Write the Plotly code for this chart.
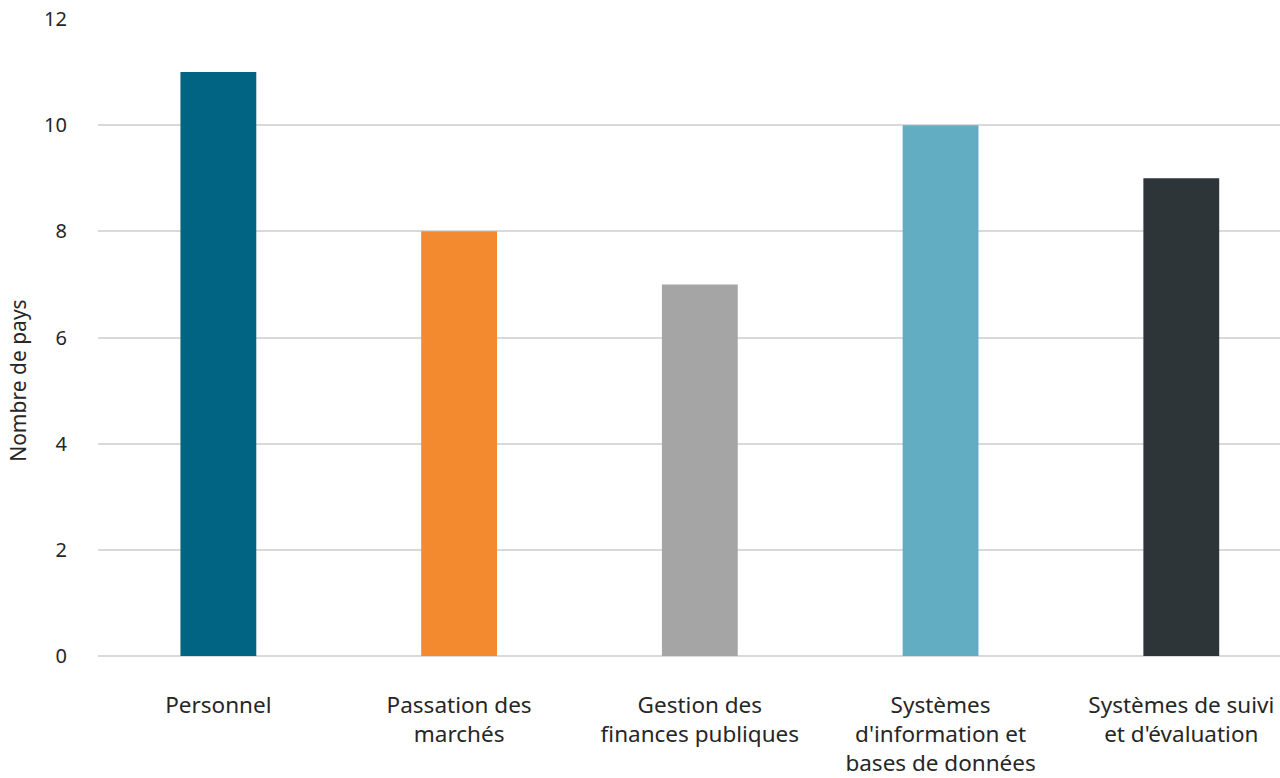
import plotly.graph_objects as go

# Domaines de renforcement des capacités et nombre de pays concernés
categories = [
    "Personnel",
    "Passation des<br>marchés",
    "Gestion des<br>finances publiques",
    "Systèmes<br>d'information et<br>bases de données",
    "Systèmes de suivi<br>et d'évaluation",
]
values = [11, 8, 7, 10, 9]
colors = ["#006482", "#F38A2F", "#A5A5A5", "#62ADC1", "#2E3539"]

y_ticks = [0, 2, 4, 6, 8, 10, 12]
y_title = "Nombre de pays"

font_family = "Noto Sans, Open Sans, sans-serif"
text_color = "#262626"

fig = go.Figure(
    go.Bar(
        x=list(range(len(categories))),
        y=values,
        marker=dict(color=colors, line=dict(width=0)),
        width=0.315,
        hovertext=[c.replace("<br>", " ") for c in categories],
        hoverinfo="text+y",
    )
)

fig.update_layout(
    width=1280,
    height=778,
    margin=dict(l=98, r=0, t=19, b=122),
    paper_bgcolor="white",
    plot_bgcolor="white",
    showlegend=False,
    font=dict(family=font_family, color=text_color, size=20),
)

fig.update_xaxes(
    range=[-0.5, 4.41],
    tickmode="array",
    tickvals=list(range(len(categories))),
    ticktext=categories,
    showgrid=False,
    showline=False,
    zeroline=False,
    ticks="",
    tickfont=dict(size=22.5, color=text_color),
    ticklabelstandoff=33,
    automargin=False,
)

fig.update_yaxes(
    range=[0, 12],
    tickvals=y_ticks,
    showgrid=True,
    gridcolor="#D9D9D9",
    gridwidth=2,
    zeroline=True,
    zerolinecolor="#D9D9D9",
    zerolinewidth=2,
    showline=False,
    ticks="",
    tickfont=dict(size=20, color=text_color),
    ticklabelstandoff=30,
    automargin=False,
)

# Vertical axis title, placed left of the tick labels
fig.add_annotation(
    text=y_title,
    xref="paper",
    yref="paper",
    x=-0.0677,
    y=0.432,
    xanchor="center",
    yanchor="middle",
    textangle=-90,
    showarrow=False,
    font=dict(size=21, color=text_color),
)

fig.write_html("out.html")
